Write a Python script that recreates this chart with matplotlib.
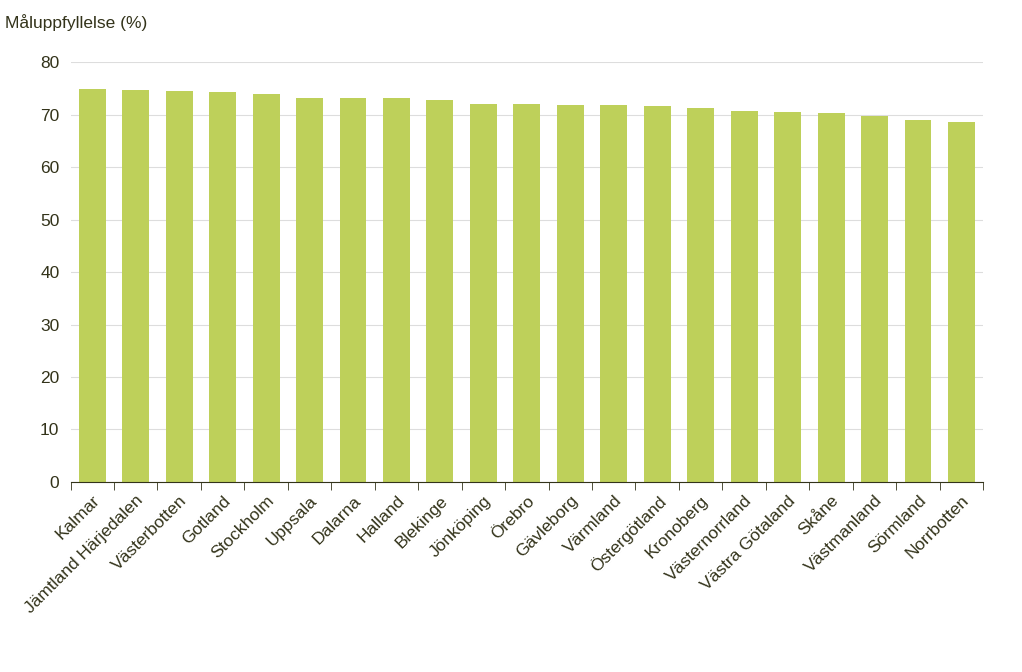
import matplotlib.pyplot as plt
import numpy as np

regions = ["Kalmar", "Jämtland Härjedalen", "Västerbotten", "Gotland", "Stockholm",
           "Uppsala", "Dalarna", "Halland", "Blekinge", "Jönköping", "Örebro",
           "Gävleborg", "Värmland", "Östergötland", "Kronoberg", "Västernorrland",
           "Västra Götaland", "Skåne", "Västmanland", "Sörmland", "Norrbotten"]
values = [75.0, 74.8, 74.6, 74.4, 74.0, 73.3, 73.3, 73.2, 72.9, 72.1, 72.1,
          71.9, 71.8, 71.7, 71.4, 70.8, 70.5, 70.3, 69.7, 69.1, 68.6]

plt.rcParams["font.family"] = ["Liberation Sans", "DejaVu Sans"]
txt = "#33331a"
n = len(regions)
fig = plt.figure(figsize=(10.22, 6.72), dpi=100)
ax = fig.add_axes([0.069, 0.283, 0.893, 0.624])
ax.bar(range(n), values, width=0.62, color="#bed05a", zorder=2)
ax.set_xlim(-0.5, n - 0.5)
ax.set_ylim(0, 80)
ax.set_yticks(range(0, 81, 10))
ax.grid(axis="y", color="#dddddd", linewidth=0.8, zorder=0)
for s in ["top", "left", "right"]:
    ax.spines[s].set_visible(False)
ax.spines["bottom"].set_color(txt)
ax.set_xticks(range(n))
ax.set_xticklabels(regions, rotation=45, ha="right", rotation_mode="anchor",
                   fontsize=12.5, color=txt)
ax.set_xticks(np.arange(n + 1) - 0.5, minor=True)
ax.tick_params(axis="x", which="major", length=0, pad=8)
ax.tick_params(axis="x", which="minor", color=txt, length=6)
ax.tick_params(axis="y", length=0, labelsize=12.5, labelcolor=txt, pad=8)
fig.text(0.005, 0.967, "Måluppfyllelse (%)", fontsize=12.5, color=txt, va="center")
fig.savefig("out.png")
